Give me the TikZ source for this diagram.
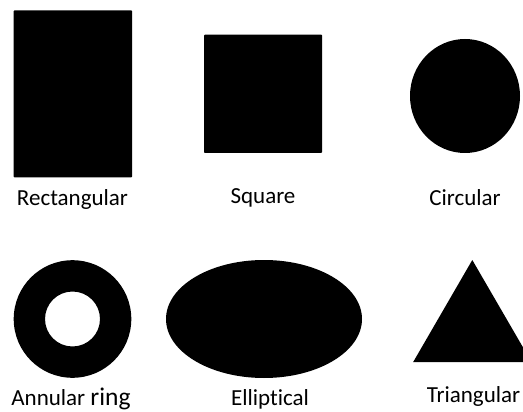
\documentclass[tikz,border=0pt]{standalone}
\usepackage{fontspec}
\setmainfont{Carlito}[Ligatures=NoCommon]
\begin{document}
\begin{tikzpicture}[x=1pt,y=-1pt,
  shapefill/.style={fill=black,draw=none},
  lbl/.style={anchor=base,inner sep=0pt,font=\fontsize{23}{26}\selectfont}]
\useasboundingbox (0,0) rectangle (523,412);
\begin{scope}
\clip (0,0) rectangle (523,412);
% row 1
\path[shapefill,rounded corners=0.8pt] (13.7,10.3) rectangle (132,177.3);
\path[shapefill,rounded corners=0.8pt] (204,34.7) rectangle (322,153);
\path[shapefill] (465,96) ellipse [x radius=55, y radius=57];
% row 2
\path[shapefill,even odd rule] (72.5,319) circle [radius=58.8] (72.5,319) circle [radius=27.5];
\path[shapefill] (264,319) ellipse [x radius=98, y radius=59];
\path[shapefill] (472.3,260) -- (531.5,362) -- (413.2,362) -- cycle;
\end{scope}
\node[lbl] (rect) at (72.5,205.5) {Rectangular};
\node[lbl] (sq) at (263,204) {Square};
\node[lbl] (circ) at (465,205) {Circular};
\node[lbl] (ann) at (71,405.5) {Annular {\fontsize{25.5}{28}\selectfont ring}};
\node[lbl] (ell) at (270,405.5) {Elliptical};
\node[lbl] (tri) at (473.5,402) {Triangular};
\end{tikzpicture}
\end{document}
